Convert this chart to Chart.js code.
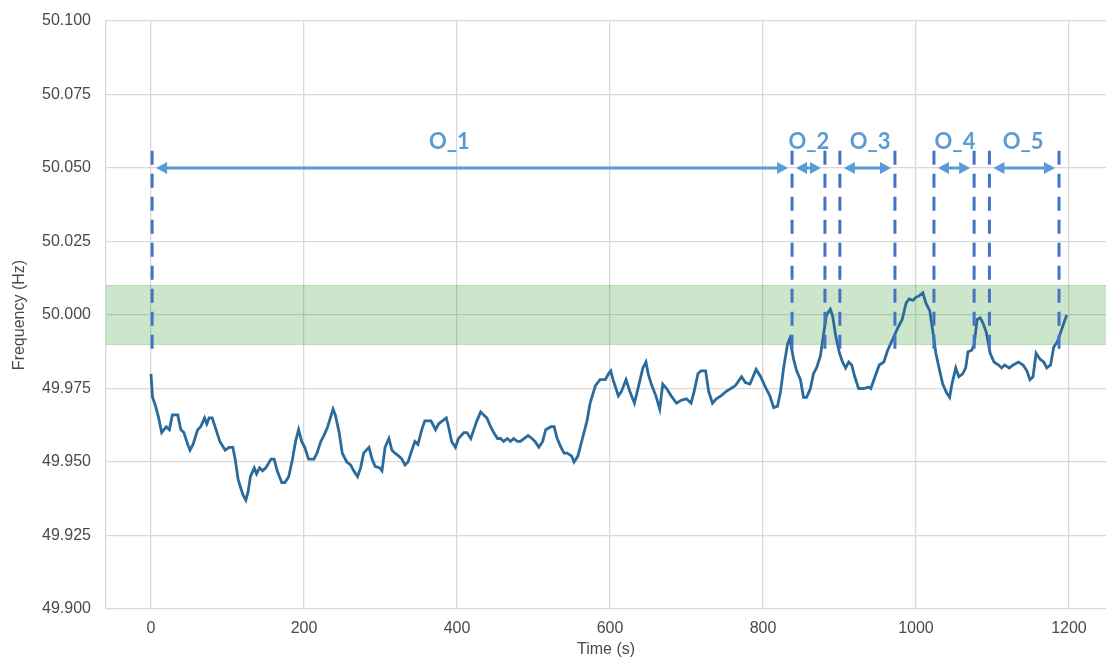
<!DOCTYPE html>
<html>
<head>
<meta charset="utf-8">
<script src="https://cdn.jsdelivr.net/npm/chart.js@4/dist/chart.umd.min.js"></script>
<style>
  html, body { margin: 0; padding: 0; background: #ffffff; }
  #wrap { width: 1106px; height: 661px; }
</style>
</head>
<body>
<div id="wrap"><canvas id="freq" width="1106" height="661"></canvas></div>
<script>
// Grid frequency trace (time in seconds, frequency in Hz)
const timeSeconds = [
  0,2,6,10,14,17,20,24,28,35,39,43,48,51,55,61,65,70,73,76,80,85,90,97,102,107,110,114,120,124,
  127,130,135,138,142,146,150,157,161,165,171,175,180,185,189,193,197,201,206,213,217,222,226,231,238,241,246,250,256,261,
  265,270,274,278,285,289,293,299,302,306,311,315,319,324,328,332,336,341,345,349,354,358,362,366,372,376,381,386,389,393,
  398,402,409,413,418,422,426,431,435,439,444,448,453,457,461,466,470,474,479,483,488,493,498,502,507,512,516,523,527,531,
  536,540,544,550,553,558,564,570,574,581,587,594,598,601,604,611,615,621,626,632,638,643,647,650,654,660,665,669,674,680,
  687,693,700,706,710,715,719,725,729,734,739,745,752,758,764,772,777,783,787,791,797,804,809,814,819,823,827,832,835,840,
  844,849,853,857,862,866,870,875,879,883,888,891,895,900,904,908,912,916,920,925,932,938,941,945,952,958,963,970,976,982,
  987,991,996,1000,1004,1009,1013,1018,1022,1026,1031,1035,1040,1044,1047,1052,1056,1061,1065,1068,1073,1076,1080,1084,1088,1092,1097,1102,1108,1112,
  1116,1122,1127,1134,1140,1145,1149,1153,1157,1162,1167,1171,1176,1180,1185,1189,1193,1197
];
const frequencyHz = [
  49.980,49.972,49.969,49.965,49.960,49.961,49.962,49.961,49.966,49.966,49.961,49.960,49.956,49.954,49.956,49.961,49.962,49.965,49.963,49.965,49.965,49.961,49.957,49.954,49.955,49.955,49.951,49.944,49.939,49.937,
  49.940,49.945,49.948,49.946,49.948,49.947,49.948,49.951,49.951,49.947,49.943,49.943,49.945,49.951,49.957,49.961,49.957,49.955,49.951,49.951,49.953,49.957,49.959,49.962,49.968,49.966,49.960,49.953,49.950,49.949,
  49.947,49.945,49.948,49.953,49.955,49.951,49.9485,49.948,49.947,49.955,49.958,49.954,49.953,49.952,49.951,49.949,49.950,49.954,49.957,49.956,49.961,49.964,49.964,49.964,49.961,49.963,49.964,49.965,49.962,49.957,
  49.955,49.958,49.960,49.960,49.958,49.961,49.964,49.967,49.966,49.965,49.962,49.960,49.958,49.958,49.957,49.958,49.957,49.958,49.957,49.957,49.958,49.959,49.958,49.957,49.955,49.957,49.961,49.962,49.962,49.958,
  49.955,49.953,49.953,49.952,49.950,49.952,49.958,49.964,49.970,49.976,49.978,49.978,49.980,49.981,49.978,49.9725,49.974,49.978,49.974,49.970,49.9765,49.982,49.984,49.980,49.9765,49.9725,49.968,49.9765,49.975,49.9725,
  49.970,49.971,49.9715,49.970,49.974,49.980,49.981,49.981,49.974,49.970,49.9715,49.9725,49.974,49.975,49.976,49.979,49.977,49.9765,49.979,49.9815,49.979,49.975,49.9725,49.9685,49.969,49.974,49.982,49.990,49.992,49.985,
  49.981,49.978,49.972,49.972,49.975,49.980,49.982,49.986,49.993,50.000,50.002,49.9997,49.993,49.987,49.984,49.982,49.984,49.983,49.979,49.975,49.975,49.9755,49.975,49.978,49.983,49.984,49.988,49.992,49.9955,49.9985,
  50.004,50.0055,50.005,50.006,50.0065,50.0075,50.004,50.0015,49.9945,49.987,49.981,49.9765,49.9735,49.972,49.9765,49.982,49.979,49.980,49.982,49.9875,49.988,49.990,49.9985,49.999,49.997,49.994,49.987,49.984,49.983,49.982,
  49.983,49.982,49.983,49.984,49.983,49.981,49.978,49.979,49.987,49.985,49.984,49.982,49.983,49.989,49.991,49.994,49.997,50.000
];

// Axis ranges and ticks
const xMin = -58.8, xMax = 1248.4;
const xTicks = [0, 200, 400, 600, 800, 1000, 1200];
const yTicks = [49.900, 49.925, 49.950, 49.975, 50.000, 50.025, 50.050, 50.075, 50.100];

// Tolerance band around nominal frequency
const bandLow = 49.990, bandHigh = 50.010;

// Operating-window boundaries (s) and their vertical extent (Hz)
const boundaryTimes = [1.5, 838, 881, 900.5, 972.5, 1023.5, 1076, 1096, 1187];
const boundaryLow = 49.9885, boundaryHigh = 50.057;

// Operating windows: start/end (s), label and label anchor time
const windowNames = ['O_1', 'O_2', 'O_3', 'O_4', 'O_5'];
const windowStart = [1.5, 838, 900.5, 1023.5, 1096];
const windowEnd = [838, 881, 972.5, 1076, 1187];
const windowLabelTime = [390, 860, 940, 1051, 1140];
const arrowLevel = 50.050, labelLevel = 50.0588;

const gridColor = '#d9d9d9';
const textColor = '#4a4a4a';
const arrowColor = '#5b9bd5';
const boundaryColor = '#4472c4';

Chart.defaults.font.family = "'Liberation Sans', Arial, sans-serif";
Chart.defaults.font.size = 16;
Chart.defaults.color = textColor;

const trace = timeSeconds.map((t, i) => ({ x: t, y: frequencyHz[i] }));

const datasets = [];
// band edges, filled between
datasets.push({
  data: [{ x: xMin, y: bandLow }, { x: xMax, y: bandLow }],
  borderColor: 'rgba(0,128,0,0.22)', borderWidth: 1, pointRadius: 0, fill: false, order: 3
});
datasets.push({
  data: [{ x: xMin, y: bandHigh }, { x: xMax, y: bandHigh }],
  borderColor: 'rgba(0,128,0,0.22)', borderWidth: 1, pointRadius: 0,
  fill: '-1', backgroundColor: 'rgba(0,128,0,0.2)', order: 3
});
// frequency trace
datasets.push({
  data: trace, borderColor: '#2a6b9c', borderWidth: 2.8, pointRadius: 0,
  tension: 0, fill: false, order: 1
});
// dashed window boundaries
boundaryTimes.forEach(t => {
  datasets.push({
    data: [{ x: t, y: boundaryLow }, { x: t, y: boundaryHigh }],
    borderColor: boundaryColor, borderWidth: 3, borderDash: [14, 9],
    pointRadius: 0, fill: false, order: 0
  });
});

// Double-headed arrows and their labels
const windowMarks = {
  id: 'windowMarks',
  afterDatasetsDraw(chart) {
    const { ctx } = chart;
    const xs = chart.scales.x, ys = chart.scales.y;
    const yA = ys.getPixelForValue(arrowLevel);
    const yL = ys.getPixelForValue(labelLevel);
    const inset = 4, headLen = 11, headHalf = 6;
    ctx.save();
    ctx.strokeStyle = arrowColor;
    ctx.fillStyle = arrowColor;
    ctx.lineWidth = 3;
    windowNames.forEach((name, i) => {
      const x1 = xs.getPixelForValue(windowStart[i]) + inset;
      const x2 = xs.getPixelForValue(windowEnd[i]) - inset;
      ctx.beginPath();
      ctx.moveTo(x1 + headLen - 1, yA);
      ctx.lineTo(x2 - headLen + 1, yA);
      ctx.stroke();
      ctx.beginPath();
      ctx.moveTo(x1, yA);
      ctx.lineTo(x1 + headLen, yA - headHalf);
      ctx.lineTo(x1 + headLen, yA + headHalf);
      ctx.closePath();
      ctx.fill();
      ctx.beginPath();
      ctx.moveTo(x2, yA);
      ctx.lineTo(x2 - headLen, yA - headHalf);
      ctx.lineTo(x2 - headLen, yA + headHalf);
      ctx.closePath();
      ctx.fill();
      ctx.font = "bold 22px Lato, 'Open Sans', sans-serif";
      ctx.textAlign = 'center';
      ctx.textBaseline = 'middle';
      ctx.fillText(name, xs.getPixelForValue(windowLabelTime[i]), yL);
    });
    ctx.restore();
  }
};

new Chart(document.getElementById('freq'), {
  type: 'line',
  data: { datasets },
  options: {
    responsive: false,
    animation: false,
    layout: { padding: { top: 21, right: 0, bottom: 0, left: 0 } },
    plugins: { legend: { display: false }, tooltip: { enabled: false } },
    scales: {
      x: {
        type: 'linear', min: xMin, max: xMax,
        afterBuildTicks(scale) { scale.ticks = xTicks.map(v => ({ value: v })); },
        afterFit(scale) { scale.height = 52; scale.paddingLeft = 0; scale.paddingRight = 0; },
        grid: { color: gridColor, lineWidth: 1.3, drawTicks: false },
        border: { display: false },
        ticks: { padding: 10, color: textColor, maxRotation: 0, callback: v => String(v) },
        title: { display: true, text: 'Time (s)', color: textColor, font: { size: 16 }, padding: { top: 0, bottom: 2 } }
      },
      y: {
        type: 'linear', min: 49.9, max: 50.1,
        afterBuildTicks(scale) { scale.ticks = yTicks.map(v => ({ value: v })); },
        afterFit(scale) { scale.width = 106; scale.paddingTop = 0; scale.paddingBottom = 0; },
        grid: { color: gridColor, lineWidth: 1.3, drawTicks: false },
        border: { display: true, color: gridColor, width: 1.3 },
        ticks: { padding: 15, color: textColor, callback: v => v.toFixed(3) },
        title: { display: true, text: 'Frequency (Hz)', color: textColor, font: { size: 16 }, padding: { top: 10, bottom: 0 } }
      }
    }
  },
  plugins: [windowMarks]
});
</script>
</body>
</html>
